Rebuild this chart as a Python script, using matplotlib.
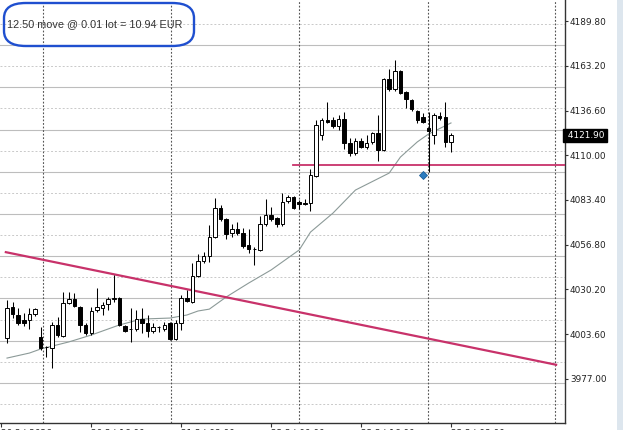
import matplotlib
matplotlib.use("Agg")
import matplotlib.pyplot as plt
import matplotlib.transforms as mtransforms
from matplotlib.patches import FancyBboxPatch, Rectangle

# ---------------- data ----------------
opens = [4001.3, 4019.8, 4015.0, 4012.0, 4012.0, 4015.6, 4001.9, 3996.0, 3995.4, 4009.1,
         4002.5, 4022.2, 4024.5, 4019.8, 4009.1, 4004.3, 4018.0, 4019.2, 4021.6, 4024.8,
         4025.1, 4008.5, 4006.4, 4006.7, 4012.6, 4010.3, 4005.5, 4007.9, 4006.7, 4010.3,
         4000.7, 4010.3, 4025.1, 4022.7, 4038.2, 4047.1, 4050.1, 4061.4, 4078.6, 4072.1,
         4063.8, 4066.1, 4063.8, 4056.6, 4054.3, 4053.7, 4069.1, 4074.5, 4072.7, 4069.1,
         4082.8, 4085.2, 4082.2, 4081.6, 4081.6, 4097.6, 4122.0, 4130.9, 4130.9, 4127.4,
         4131.5, 4117.3, 4111.3, 4118.5, 4114.9, 4117.9, 4123.2, 4113.1, 4155.3, 4149.4,
         4160.1, 4147.6, 4142.8, 4136.3, 4132.7, 4126.2, 4122.0, 4133.3, 4132.7, 4117.9]
highs = [4023.9, 4022.7, 4019.2, 4016.2, 4019.2, 4019.2, 4007.9, 3996.6, 4010.9, 4013.8,
         4028.7, 4028.7, 4028.1, 4020.4, 4010.3, 4019.8, 4031.1, 4022.7, 4025.7, 4038.8,
         4025.7, 4009.1, 4019.2, 4018.0, 4019.2, 4015.0, 4010.3, 4008.5, 4010.9, 4010.9,
         4012.0, 4026.9, 4029.9, 4045.9, 4051.3, 4052.5, 4068.5, 4084.6, 4080.4, 4072.7,
         4069.1, 4070.3, 4066.7, 4066.1, 4055.4, 4073.9, 4084.0, 4079.2, 4073.3, 4087.5,
         4086.4, 4085.8, 4083.4, 4084.0, 4101.8, 4130.9, 4132.1, 4141.6, 4132.7, 4133.9,
         4135.7, 4120.2, 4120.2, 4120.2, 4122.0, 4123.8, 4133.9, 4155.9, 4161.3, 4166.6,
         4160.7, 4148.2, 4143.4, 4136.9, 4135.1, 4135.7, 4135.1, 4135.7, 4141.6, 4123.2]
lows = [3998.4, 4013.2, 4009.1, 4008.5, 4006.7, 4014.4, 3994.2, 3990.0, 3983.5, 4001.9,
        4001.9, 4021.6, 4019.8, 4004.9, 4003.1, 4003.1, 4016.8, 4015.0, 4018.0, 4022.7,
        4008.5, 4004.9, 3999.0, 4005.5, 4004.3, 4001.9, 4004.3, 4004.9, 4005.5, 4000.2,
        4000.2, 4006.1, 4022.7, 4022.2, 4037.6, 4045.9, 4046.5, 4060.8, 4070.9, 4060.2,
        4061.4, 4062.6, 4054.8, 4051.9, 4044.7, 4053.1, 4067.9, 4070.9, 4067.3, 4067.9,
        4081.6, 4078.0, 4078.0, 4080.4, 4076.8, 4097.1, 4119.1, 4129.2, 4126.2, 4125.0,
        4113.7, 4109.5, 4110.1, 4114.3, 4113.7, 4116.7, 4106.6, 4112.5, 4148.2, 4148.2,
        4146.4, 4138.1, 4136.3, 4129.2, 4129.2, 4100.0, 4116.7, 4130.9, 4114.9, 4111.9]
closes = [4019.2, 4015.6, 4010.3, 4010.3, 4015.6, 4018.6, 3995.4, 3995.7, 4009.1, 4003.1,
          4022.2, 4024.5, 4020.4, 4009.1, 4004.3, 4017.4, 4019.8, 4021.0, 4024.5, 4025.1,
          4009.1, 4005.5, 4006.7, 4012.6, 4010.3, 4005.5, 4007.9, 4007.6, 4009.1, 4000.7,
          4010.3, 4025.1, 4023.3, 4038.2, 4047.1, 4050.1, 4061.4, 4078.6, 4072.1, 4063.2,
          4066.1, 4063.8, 4056.0, 4054.3, 4054.0, 4069.1, 4074.5, 4072.1, 4069.1, 4082.2,
          4085.2, 4078.6, 4081.0, 4081.3, 4098.2, 4128.0, 4130.9, 4129.8, 4127.4, 4131.5,
          4117.3, 4111.3, 4118.5, 4114.9, 4117.3, 4123.2, 4113.1, 4155.3, 4149.4, 4160.1,
          4147.0, 4143.4, 4137.5, 4130.9, 4129.8, 4124.4, 4133.9, 4132.1, 4117.9, 4121.9]

ma_bars = [0, 4, 6, 11, 15, 20, 24, 29, 32, 34, 36, 39, 43, 47, 52, 54, 58, 62, 68, 70, 73, 75, 79]
ma_vals = [3989.4, 3992.4, 3994.8, 3999.0, 4003.1, 4009.1, 4012.6, 4013.2, 4015.0, 4017.4,
           4018.5, 4025.7, 4034.0, 4041.8, 4053.7, 4064.3, 4075.6, 4089.3, 4099.4, 4108.9,
           4117.9, 4122.6, 4129.2]

price_ticks = [4189.80, 4163.20, 4136.60, 4110.00, 4083.40, 4056.80, 4030.20, 4003.60, 3977.00]
time_tick_bars = [-1, 15, 31, 47, 63, 79]
time_tick_labels = ["20.3.| 2026", "20.3.| 16:00", "21.3.| 08:00", "22.3.| 00:00",
                    "22.3.| 16:00", "23.3.| 08:00"]

trend_bars = [-0.4, 97.9]
trend_prices = [4052.5, 3985.3]
hline_start_bar = 51
hline_price = 4104.2
marker_bar = 74
marker_price = 4098.2
last_price = 4121.90
note_text = "12.50 move @ 0.01 lot = 10.94 EUR"

# ---------------- layout ----------------
W, H = 625, 430
fig = plt.figure(figsize=(W / 100, H / 100), dpi=100)
fig.patch.set_facecolor("white")
ax = fig.add_axes([0, 7 / H, 565 / W, 423 / H])
ax.set_facecolor("white")

step = 5.62  # pixels per bar
ax.set_xlim(-7 / step, (565 - 7) / step)
ax.set_ylim(3950.8, 4202.3)

# horizontal grid (alternating dotted / solid)
for k in range(19):
    lvl = 4188.0 - 12.55 * k
    if k % 2 == 0:
        ax.axhline(lvl, color="#c9c9c9", lw=0.7, ls=(0, (2, 2)), zorder=0)
    else:
        ax.axhline(lvl, color="#bdbdbd", lw=0.8, zorder=0)

# vertical dotted separators
for px in [43, 171, 299, 428, 555]:
    ax.axvline((px - 7) / step, color="#555555", lw=0.8, ls=(0, (1.6, 1.6)), zorder=1)

# moving average
ax.plot(ma_bars, ma_vals, color="#8c9a98", lw=0.8, zorder=2)

# trend line and horizontal level
ax.plot(trend_bars, trend_prices, color="#c8326a", lw=1.6, zorder=3, solid_capstyle="butt")
ax.plot([hline_start_bar - 0.1, 200], [hline_price, hline_price], color="#c8326a", lw=1.3, zorder=3)

# candles
bw = 0.62
for i, (o, h, l, c) in enumerate(zip(opens, highs, lows, closes)):
    ax.plot([i, i], [l, h], color="black", lw=0.75, zorder=4, solid_capstyle="butt")
    lo, hi = min(o, c), max(o, c)
    bull = c >= o
    ax.add_patch(Rectangle((i - bw / 2, lo), bw, max(hi - lo, 0.05),
                           facecolor="white" if bull else "black",
                           edgecolor="black", lw=0.7, zorder=5))

# blue marker
ax.plot([marker_bar], [marker_price], marker="D", markersize=4.2,
        color="#2b7cc0", markeredgecolor="#1d5f99", markeredgewidth=0.6, zorder=6)

# axes styling
for s in ["top", "left"]:
    ax.spines[s].set_visible(False)
for s in ["right", "bottom"]:
    ax.spines[s].set_color("#333333")
    ax.spines[s].set_linewidth(1.0)

ax.yaxis.tick_right()
ax.set_yticks(price_ticks)
ax.set_yticklabels([f"{v:.2f}" for v in price_ticks])
ax.tick_params(axis="y", direction="out", length=2.5, width=0.8, color="#333333",
               labelsize=6.4, labelcolor="#222222", pad=1)
ax.set_xticks(time_tick_bars)
ax.set_xticklabels(time_tick_labels)
ax.tick_params(axis="x", direction="out", length=3, width=0.8, color="#333333",
               labelsize=6.4, labelcolor="#222222", pad=1)
for t in ax.get_xticklabels():
    t.set_ha("left")
    t.set_family("DejaVu Sans")
for t in ax.get_yticklabels():
    t.set_family("DejaVu Sans")

# last price label
trans = mtransforms.blended_transform_factory(ax.transAxes, ax.transData)
ax.text(1.0, last_price, " " + f"{last_price:.2f}", transform=trans, ha="left", va="center",
        fontsize=6.4, color="white", family="DejaVu Sans", zorder=10, clip_on=False,
        bbox=dict(boxstyle="square,pad=0.25", facecolor="black", edgecolor="black"))

# annotation text with hand-drawn-like outline
fig.text(7 / W, 1 - 24 / H, note_text, ha="left", va="center", fontsize=7.8,
         family="Liberation Sans", color="#333333")
fig.patches.append(FancyBboxPatch((4 / W, 1 - 46 / H), 190 / W, 43 / H,
                                  boxstyle="round,pad=0,rounding_size=0.035",
                                  transform=fig.transFigure, fill=False,
                                  edgecolor="#1f4fcf", lw=1.7, zorder=20))

# window border strip at right
fig.patches.append(Rectangle((617 / W, 0), 6 / W, 1, transform=fig.transFigure,
                             facecolor="#dde6ee", edgecolor="none", zorder=0))

fig.savefig("out.png", dpi=100)
